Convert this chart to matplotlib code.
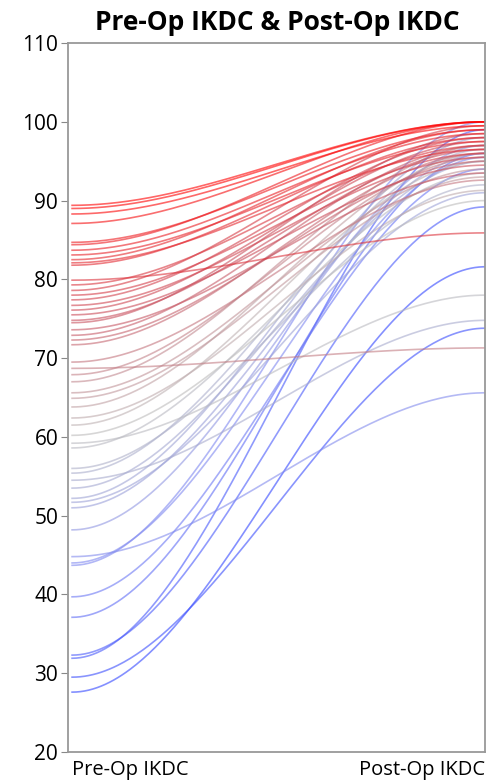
import matplotlib.pyplot as plt
import numpy as np
from matplotlib.colors import LinearSegmentedColormap, TwoSlopeNorm

# Werte (Pre-Op -> Post-Op)
pre_op = [89.4, 89.0, 88.3, 87.1,
          84.7, 84.4, 83.7, 83.1, 82.5, 82.1, 81.8,
          79.9, 79.3, 78.6, 78.0, 77.4, 76.7, 76.1, 75.5,
          74.8, 74.5, 73.6, 72.9, 72.3, 71.7,
          69.5, 68.7, 67.9, 67.0, 65.6, 64.9, 63.8, 62.4, 61.5, 60.2,
          59.2, 58.6, 56.0, 55.4, 54.5, 53.5, 52.2, 51.7, 51.0, 48.2,
          44.8, 44.0, 43.7, 39.7, 37.1, 32.3, 31.9, 29.5, 27.6]
post_op = [100.0, 100.0, 99.5, 100.0,
           99.0, 100.0, 98.5, 97.5, 99.0, 96.5, 98.0,
           85.9, 97.0, 99.5, 96.0, 98.0, 95.5, 97.5, 94.5,
           96.5, 98.5, 93.5, 97.0, 95.0, 96.0,
           92.6, 71.3, 95.5, 97.0, 94.0, 93.0, 96.0, 91.3, 95.0, 90.0,
           78.0, 93.5, 92.0, 96.5, 74.8, 95.0, 98.0, 91.0, 96.0, 97.0,
           65.6, 95.5, 100.0, 94.0, 96.0, 89.2, 99.0, 73.8, 81.6]
axis_labels = ['Pre-Op IKDC', 'Post-Op IKDC']
y_ticks = list(range(20, 111, 10))

# Farbskala blau -> grau -> rot nach Pre-Op-Wert
cmap = LinearSegmentedColormap.from_list(
    'bgr', ['#3246ff', '#7f88f0', '#bdbdbd', '#c8505e', '#ff0000'])
norm = TwoSlopeNorm(vmin=min(pre_op), vcenter=60, vmax=max(pre_op))

fig = plt.figure(figsize=(4.89, 7.83), dpi=100)
ax = fig.add_axes([0.139, 0.0396, 0.853, 0.9054])

t = np.linspace(0, 1, 200)
s = 3 * t**2 - 2 * t**3
# blaue zuerst zeichnen, rote oben drauf
order = np.argsort(pre_op)
for i in order:
    a, b = pre_op[i], post_op[i]
    ax.plot(t, a + (b - a) * s, color=cmap(norm(a)), lw=1.2, alpha=0.6)

ax.set_xlim(-0.01, 1.0)
ax.set_ylim(20, 110)
ax.set_yticks(y_ticks)
ax.set_yticklabels([str(v) for v in y_ticks], fontsize=15, family='Open Sans')
ax.tick_params(axis='y', length=5, color='#888888', pad=2)
ax.set_xticks([])
for sp in ax.spines.values():
    sp.set_color('#999999')
    sp.set_linewidth(1.3)

fig.text(0.139 + 4 / 489, 0.004, axis_labels[0], ha='left', va='bottom',
         fontsize=14.5, family='Open Sans')
fig.text(0.992, 0.004, axis_labels[1], ha='right', va='bottom',
         fontsize=14.5, family='Open Sans')
fig.text(0.567, 0.971, 'Pre-Op IKDC & Post-Op IKDC', ha='center', va='center',
         fontsize=19, fontweight='bold', family='Open Sans')

fig.savefig('out.png', dpi=100)
